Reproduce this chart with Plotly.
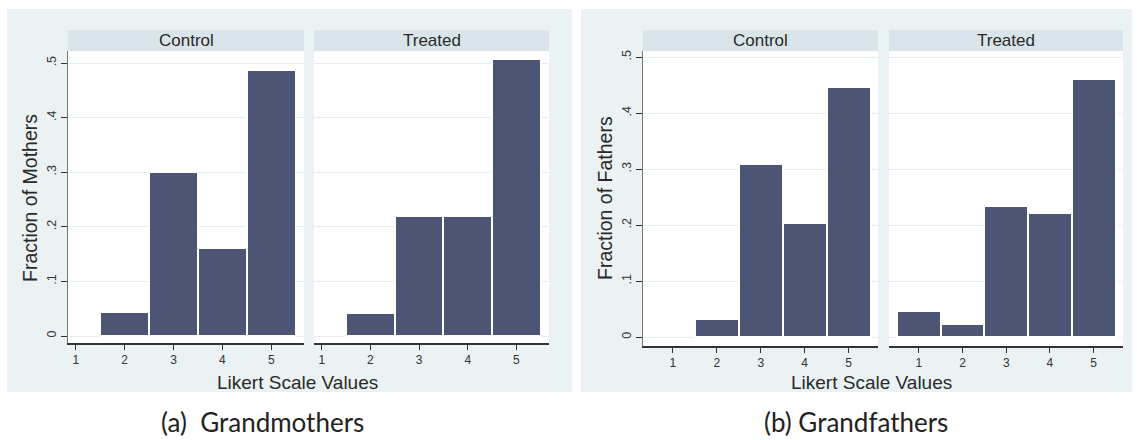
import plotly.graph_objects as go

W, H = 1137, 440

# ---------------- data ----------------
likert = [1, 2, 3, 4, 5]
x_tick_labels = ["1", "2", "3", "4", "5"]
y_tick_vals = [0, 0.1, 0.2, 0.3, 0.4, 0.5]
y_tick_labels = ["0", ".1", ".2", ".3", ".4", ".5"]

mothers_control = [None, 0.044, 0.300, 0.162, 0.487]
mothers_treated = [None, 0.042, 0.220, 0.220, 0.508]
fathers_control = [None, 0.032, 0.309, 0.203, 0.446]
fathers_treated = [0.047, 0.024, 0.234, 0.221, 0.461]

facet_names = ["Control", "Treated"]
y_titles = ["Fraction of Mothers", "Fraction of Fathers"]
x_title = "Likert Scale Values"
captions = ["(a)  Grandmothers", "(b) Grandfathers"]

# ---------------- styling ----------------
BAR = "#4c5573"
PANEL_BG = "#eaf2f3"
STRIP_BG = "#d9e5ea"
GRID = "#e4edef"
FONT = "Liberation Sans"


def px_x(v):
    return v / W


def px_y(v):
    return (H - v) / H


# panel geometry in pixels (layout only)
panels = [
    dict(bg=(7, 9, 572, 392), facets=[(68, 304), (314, 549)], top=51, bottom=343,
         xrange=[0.84, 5.67], yrange=[-0.0128, 0.522], ytitle_x=30, xtitle_x=297),
    dict(bg=(581, 9, 1132, 392), facets=[(643, 878), (889, 1123)], top=51, bottom=346,
         xrange=[0.32, 5.67], yrange=[-0.016, 0.511], ytitle_x=605, xtitle_x=871),
]
series = [[mothers_control, mothers_treated], [fathers_control, fathers_treated]]

fig = go.Figure()
shapes = []
annotations = []
layout_axes = {}

ax = 0
for p_i, p in enumerate(panels):
    x0, y0, x1, y1 = p["bg"]
    shapes.append(dict(type="rect", xref="paper", yref="paper", layer="below",
                       x0=px_x(x0), x1=px_x(x1), y0=px_y(y1), y1=px_y(y0),
                       fillcolor=PANEL_BG, line=dict(width=0)))
    for f_i, (fx0, fx1) in enumerate(p["facets"]):
        ax += 1
        xa = "x" if ax == 1 else f"x{ax}"
        ya = "y" if ax == 1 else f"y{ax}"
        # white plot area
        shapes.append(dict(type="rect", xref="paper", yref="paper", layer="below",
                           x0=px_x(fx0), x1=px_x(fx1), y0=px_y(p["bottom"]), y1=px_y(p["top"]),
                           fillcolor="white", line=dict(width=0)))
        # strip header
        shapes.append(dict(type="rect", xref="paper", yref="paper", layer="below",
                           x0=px_x(fx0), x1=px_x(fx1), y0=px_y(51), y1=px_y(30),
                           fillcolor=STRIP_BG, line=dict(width=0)))
        annotations.append(dict(text=facet_names[f_i], xref="paper", yref="paper",
                                x=px_x((fx0 + fx1) / 2), y=px_y(40.5), xanchor="center",
                                yanchor="middle", showarrow=False,
                                font=dict(family=FONT, size=17, color="#2a2a2a")))
        fig.add_trace(go.Bar(x=likert, y=series[p_i][f_i], width=1.0,
                             marker=dict(color=BAR, line=dict(color="white", width=2)),
                             xaxis=xa, yaxis=ya, showlegend=False, hoverinfo="x+y"))
        key_x = "xaxis" if ax == 1 else f"xaxis{ax}"
        key_y = "yaxis" if ax == 1 else f"yaxis{ax}"
        layout_axes[key_x] = dict(
            domain=[px_x(fx0), px_x(fx1)], anchor=ya, range=p["xrange"],
            tickmode="array", tickvals=likert, ticktext=x_tick_labels,
            ticks="outside", ticklen=5, tickwidth=1, tickcolor="#333",
            showline=True, linecolor="#333", linewidth=1.5,
            showgrid=False, zeroline=False, fixedrange=True,
            tickfont=dict(family=FONT, size=12, color="#333"))
        first = f_i == 0
        layout_axes[key_y] = dict(
            domain=[px_y(p["bottom"]), px_y(p["top"])], anchor=xa, range=p["yrange"],
            tickmode="array", tickvals=y_tick_vals, ticktext=y_tick_labels,
            ticks="outside" if first else "", ticklen=6, tickwidth=1, tickcolor="#333",
            showticklabels=first, tickangle=-90,
            showline=first, linecolor="#777", linewidth=1,
            showgrid=True, gridcolor=GRID, gridwidth=1.2,
            zeroline=False, fixedrange=True,
            tickfont=dict(family=FONT, size=12.5, color="#333"))

    # axis titles
    annotations.append(dict(text=x_title, xref="paper", yref="paper",
                            x=px_x(p["xtitle_x"]), y=px_y(382), xanchor="center",
                            yanchor="middle", showarrow=False,
                            font=dict(family=FONT, size=19, color="#2a2a2a")))
    annotations.append(dict(text=y_titles[p_i], xref="paper", yref="paper",
                            x=px_x(p["ytitle_x"]), y=px_y(198), xanchor="center",
                            yanchor="middle", showarrow=False, textangle=-90,
                            font=dict(family=FONT, size=19.5, color="#2a2a2a")))

# captions
annotations.append(dict(text=captions[0], xref="paper", yref="paper",
                        x=px_x(262), y=px_y(422), xanchor="center", yanchor="middle",
                        showarrow=False, font=dict(family="Lato", size=26, color="#222")))
annotations.append(dict(text=captions[1], xref="paper", yref="paper",
                        x=px_x(856), y=px_y(422), xanchor="center", yanchor="middle",
                        showarrow=False, font=dict(family="Lato", size=26, color="#222")))

fig.update_layout(
    width=W, height=H, margin=dict(l=0, r=0, t=0, b=0),
    paper_bgcolor="white", plot_bgcolor="rgba(0,0,0,0)",
    bargap=0, shapes=shapes, annotations=annotations, showlegend=False,
    **layout_axes)

fig.write_html("out.html", config=dict(displayModeBar=False),
               post_script="document.body.style.margin='0px';document.body.style.overflow='hidden';")
